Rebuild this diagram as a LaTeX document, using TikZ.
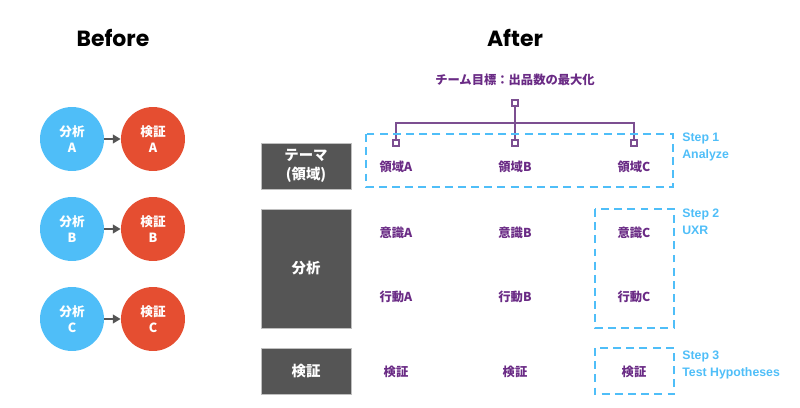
\documentclass[tikz,border=0pt]{standalone}
\usepackage{fontspec}
\setmainfont{Noto Sans CJK JP}
\newfontfamily\popfont{Poppins}
\newfontfamily\stepfont{Liberation Sans}
\usepackage{tikz}
\usetikzlibrary{arrows.meta,positioning}
\definecolor{skyblue}{HTML}{4FBEF8}
\definecolor{tomato}{HTML}{E54E31}
\definecolor{boxgray}{HTML}{555555}
\definecolor{plum}{HTML}{6A2B85}
\definecolor{plumline}{HTML}{7C4F91}

\begin{document}
\begin{tikzpicture}[x=0.02cm, y=-0.02cm,
    title/.style={font=\popfont\bfseries\fontsize{12.5}{14}\selectfont},
    ana/.style={circle, fill=skyblue, minimum size=1.28cm, inner sep=0pt,
        text=white, align=center, font=\bfseries\fontsize{7.2}{9.4}\selectfont},
    ken/.style={ana, fill=tomato},
    arr/.style={-{Triangle[length=4.5pt,width=5pt]}, line width=1.6pt, boxgray},
    rowbox/.style={rectangle, fill=boxgray, draw=black!25, line width=0.4pt,
        minimum width=1.8cm, inner sep=0pt, text=white, align=center,
        font=\bfseries\fontsize{8.2}{10.5}\selectfont},
    lab/.style={text=plum, inner sep=0pt, font=\bfseries\fontsize{7}{8}\selectfont},
    tick/.style={rectangle, draw=plumline, fill=white, line width=0.6pt,
        minimum size=0.12cm, inner sep=0pt},
    tree/.style={plumline, line width=0.6pt},
    stepbox/.style={draw=skyblue, line width=1.1pt, dash pattern=on 4.5pt off 3pt},
    steplab/.style={text=skyblue, anchor=west, align=left, inner sep=0pt,
        font=\stepfont\bfseries\fontsize{7}{9.5}\selectfont}
]
    \useasboundingbox (0,0) rectangle (800,408);

    % Titles
    \node[title] (before) at (113,38) {Before};
    \node[title] (after) at (515,38) {After};

    % Before: analysis -> verification
    \node[ana] (anaA) at (72,139) {分析\\A};
    \node[ken] (kenA) at (153,139) {検証\\A};
    \node[ana] (anaB) at (72,229) {分析\\B};
    \node[ken] (kenB) at (153,229) {検証\\B};
    \node[ana] (anaC) at (72,319) {分析\\C};
    \node[ken] (kenC) at (153,319) {検証\\C};
    \draw[arr] (anaA) -- (kenA);
    \draw[arr] (anaB) -- (kenB);
    \draw[arr] (anaC) -- (kenC);

    % After: row headers
    \node[rowbox, minimum height=0.92cm] (theme) at (306,166) {テーマ\\(領域)};
    \node[rowbox, minimum height=2.38cm] (bunseki) at (306,268.5) {分析};
    \node[rowbox, minimum height=0.92cm] (kensho) at (306,371) {検証};

    % Goal and tree
    \node[lab] (goal) at (515,80) {チーム目標：出品数の最大化};
    \node[tick] (goalsq) at (515,103) {};
    \node[tick] (sqA) at (396,143) {};
    \node[tick] (sqB) at (515,143) {};
    \node[tick] (sqC) at (634,143) {};
    \coordinate (bar) at (515,123);
    \draw[tree] (goalsq) -- (sqB);
    \draw[tree] (sqA) |- (bar) -| (sqC);

    % Columns
    \node[lab] (areaA) at (396,167) {領域A};
    \node[lab] (areaB) at (515,167) {領域B};
    \node[lab] (areaC) at (634,167) {領域C};
    \node[lab] (ishikiA) at (396,233) {意識A};
    \node[lab] (ishikiB) at (515,233) {意識B};
    \node[lab] (ishikiC) at (634,233) {意識C};
    \node[lab] (kodoA) at (396,297) {行動A};
    \node[lab] (kodoB) at (515,297) {行動B};
    \node[lab] (kodoC) at (634,297) {行動C};
    \node[lab] (kenshoA) at (396,372) {検証};
    \node[lab] (kenshoB) at (515,372) {検証};
    \node[lab] (kenshoC) at (634,372) {検証};

    % Steps
    \draw[stepbox] (366,134) rectangle (673,187);
    \draw[stepbox] (595,209) rectangle (674,328);
    \draw[stepbox] (595,348) rectangle (674,394);
    \node[steplab] (step1) at (682,147) {Step 1\\Analyze};
    \node[steplab] (step2) at (682,222) {Step 2\\UXR};
    \node[steplab] (step3) at (682,365) {Step 3\\Test Hypotheses};
\end{tikzpicture}
\end{document}
